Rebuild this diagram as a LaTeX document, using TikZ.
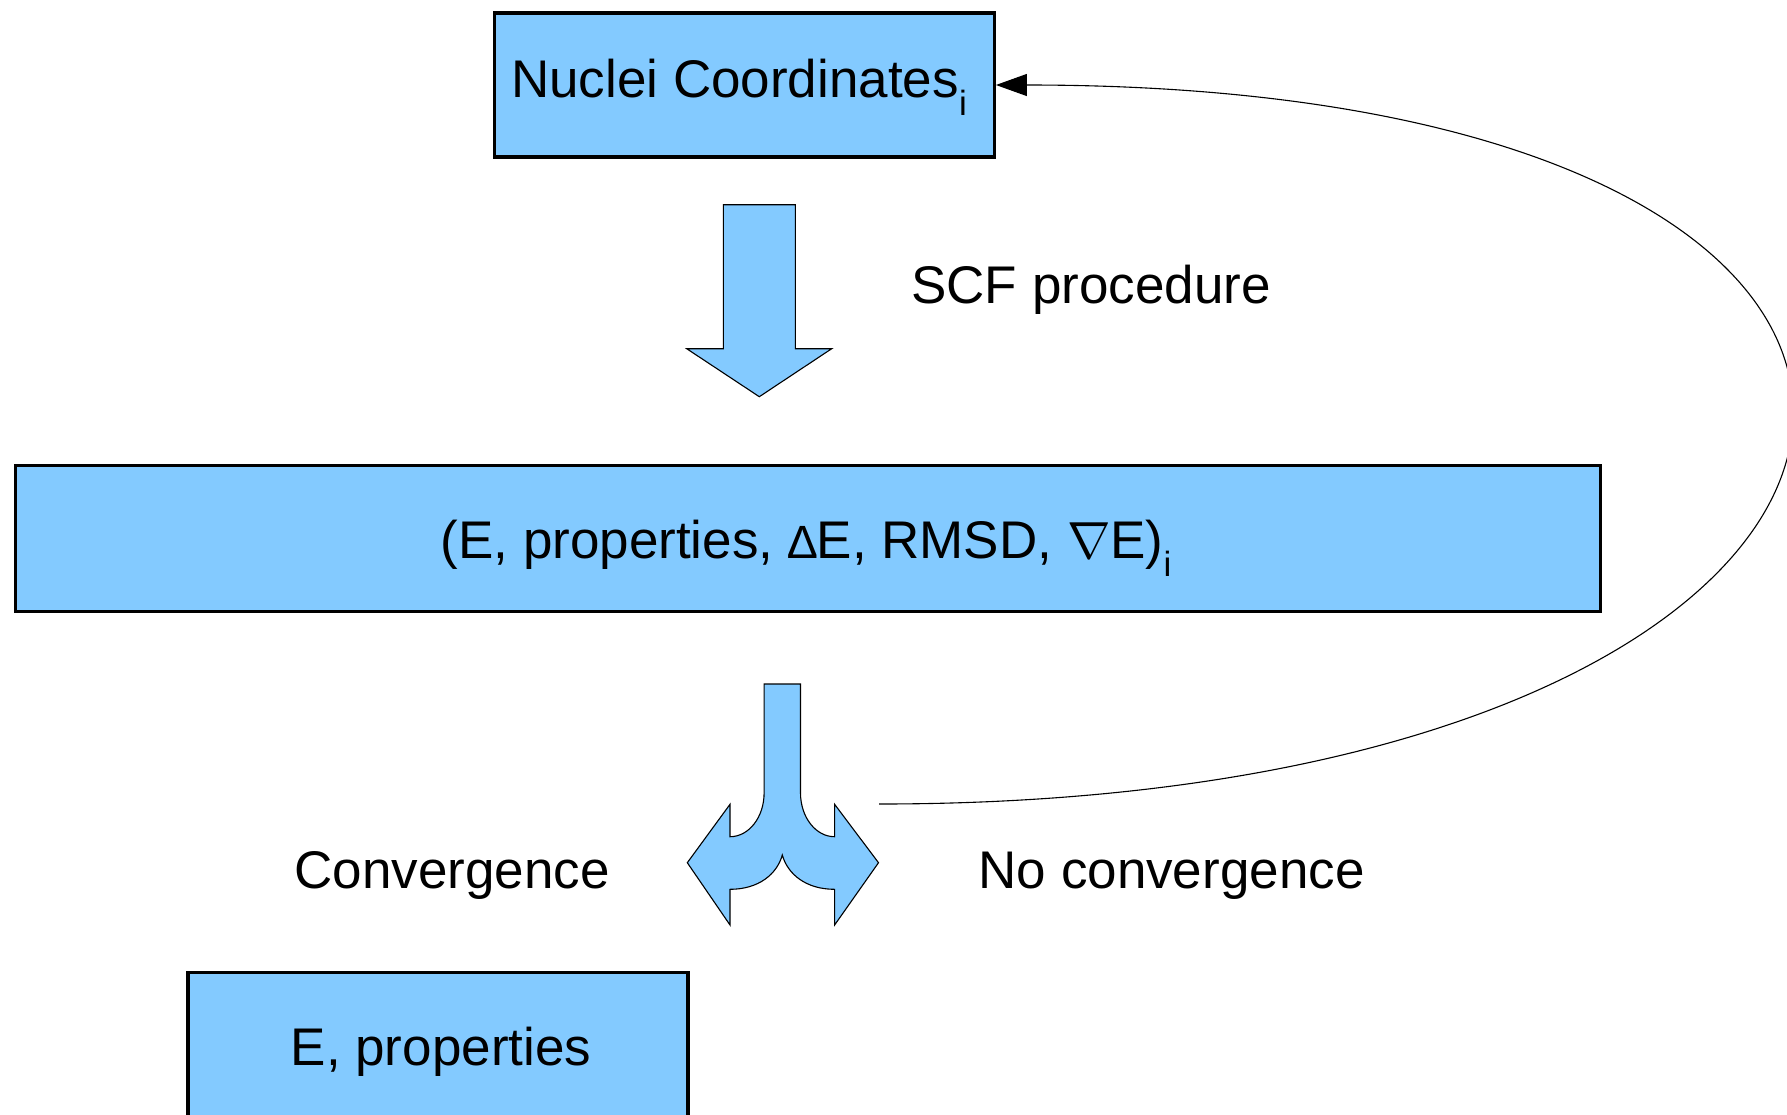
\documentclass[tikz,border=0pt]{standalone}
\usepackage{graphicx}
\usepackage{fontspec}
\setmainfont{Liberation Sans}
\usetikzlibrary{arrows.meta}
\definecolor{boxblue}{RGB}{131,202,255}
\newcommand{\subidx}[1]{\raisebox{-18pt}{\fontsize{35}{40}\selectfont #1}}
\newcommand{\incr}{\scalebox{0.88}{\char"2206}}
\newcommand{\grad}{\scalebox{2.1}{$\nabla$}}
\begin{document}
\begin{tikzpicture}[x=1pt,y=-1pt,
  box/.style={draw=black,line width=3.2pt,fill=boxblue,inner sep=0pt,rectangle},
  bigarrow/.style={draw=black,line width=1.1pt,fill=boxblue,line join=miter},
  lbl/.style={font=\fontsize{53}{60}\selectfont,inner sep=0pt,anchor=base},
  loopline/.style={draw=black,line width=1.1pt,-{Triangle[length=31pt,width=22pt]}}]
\useasboundingbox (0,0) rectangle (1787,1114);
\clip (0,0) rectangle (1787,1114);

% boxes
\node[box,minimum width=500pt,minimum height=144pt] (coords) at (744.3,85) {};
\node[box,minimum width=1585pt,minimum height=146pt] (results) at (808.3,538.3) {};
\node[box,minimum width=500pt,minimum height=145pt] (final) at (438,1045) {};

% box texts
\node[lbl] (coordstext) at (739,97.3) {Nuclei Coordinates\subidx{i}};
\node[lbl] (resultstext) at (806,558) {(E, properties, \incr E, RMSD, \grad E)\subidx{i}};
\node[lbl] (finaltext) at (441,1065) {E, properties};

% SCF step arrow
\draw[bigarrow] (723.3,204.7) -- (795.3,204.7) -- (795.3,348.7) -- (831.7,348.7)
  -- (759.3,396.7) -- (686.7,348.7) -- (723.3,348.7) -- cycle;
\node[lbl] (scf) at (1091,303.7) {SCF procedure};

% branching arrow
\draw[bigarrow] (764.1,684) -- (764.1,793)
  .. controls (764.1,817) and (749,836.7) .. (730,836.7)
  -- (730,804.3) -- (687.3,862.7) -- (730,925) -- (730,889.3)
  .. controls (758.8,889.3) and (777,874) .. (782.3,855)
  .. controls (787.6,874) and (805.8,889.3) .. (834.6,889.3)
  -- (834.6,925) -- (878.5,862.7) -- (834.6,804.3) -- (834.6,836.7)
  .. controls (815.6,836.7) and (800.5,817) .. (800.5,793)
  -- (800.5,684) -- cycle;
\node[lbl] (conv) at (452,888.4) {Convergence};
\node[lbl] (noconv) at (1171.6,888.4) {No convergence};

% feedback loop back to the coordinates
\coordinate (loopstart) at (879,804);
\draw[loopline] (loopstart) .. controls +(1132,0) and +(1132,0) .. (coords.east);
\end{tikzpicture}
\end{document}
